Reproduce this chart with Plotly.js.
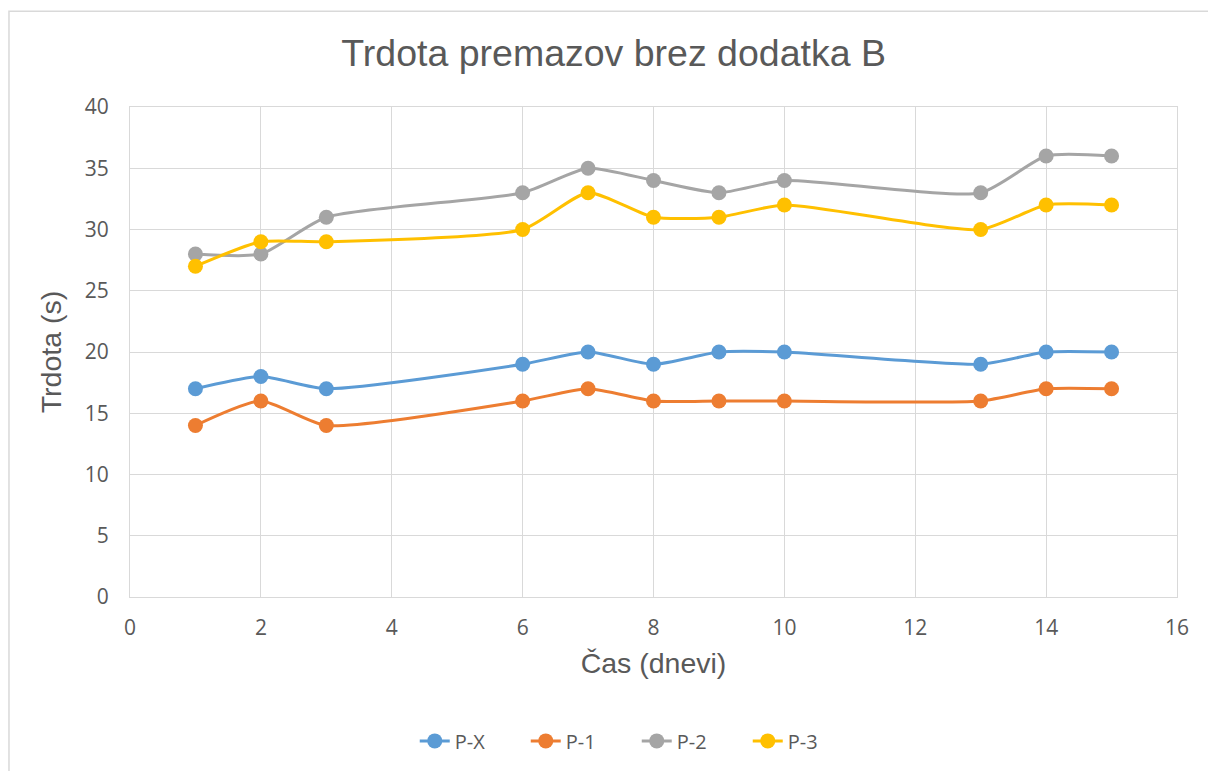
<!DOCTYPE html>
<html><head><meta charset="utf-8">
<script src="https://cdn.plot.ly/plotly-3.0.1.min.js"></script>
<style>body{margin:0;background:#fff}#c{width:1208px;height:771px}</style>
</head><body><div id="c"></div>
<script>
const days = [1, 2, 3, 6, 7, 8, 9, 10, 13, 14, 15];
const pX = [17, 18, 17, 19, 20, 19, 20, 20, 19, 20, 20];
const p1 = [14, 16, 14, 16, 17, 16, 16, 16, 16, 17, 17];
const p2 = [28, 28, 31, 33, 35, 34, 33, 34, 33, 36, 36];
const p3 = [27, 29, 29, 30, 33, 31, 31, 32, 30, 32, 32];
const names = ['P-X', 'P-1', 'P-2', 'P-3'];
const colors = ['#5b9bd5', '#ed7d31', '#a5a5a5', '#ffc000'];
const series = [pX, p1, p2, p3];
const arial = '"Liberation Sans", Arial, sans-serif';
const tickFont = '"Open Sans", "Noto Sans", sans-serif';
const traces = series.map((s, i) => ({
  x: days, y: s, name: names[i], type: 'scatter', mode: 'lines+markers',
  line: {color: colors[i], width: 3, shape: 'spline', smoothing: 0.6},
  marker: {color: colors[i], size: 15}
}));
const layout = {
  width: 1208, height: 771,
  margin: {l: 130, r: 31, t: 107, b: 173},
  paper_bgcolor: '#fff', plot_bgcolor: '#fff',
  font: {family: tickFont, color: '#595959'},
  title: {text: 'Trdota premazov brez dodatka B', font: {size: 37.5, color: '#595959', family: arial}, x: 0.508, xanchor: 'center', y: 0.932, yanchor: 'middle'},
  xaxis: {range: [0, 16], dtick: 2, tick0: 0, showgrid: true, gridcolor: '#d9d9d9', gridwidth: 1,
    zeroline: false, showline: true, linecolor: '#d9d9d9', mirror: true, ticks: '',
    tickfont: {size: 21, color: '#595959', family: tickFont}, ticklabelstandoff: 12,
    title: {text: 'Čas (dnevi)', font: {size: 28.5, color: '#595959', family: arial}, standoff: 12}},
  yaxis: {range: [0, 40], dtick: 5, tick0: 0, showgrid: true, gridcolor: '#d9d9d9', gridwidth: 1,
    zeroline: false, showline: true, linecolor: '#d9d9d9', mirror: true, ticks: '',
    tickfont: {size: 21, color: '#595959', family: tickFont}, ticklabelstandoff: 16,
    title: {text: 'Trdota (s)', font: {size: 28.5, color: '#595959', family: arial}, standoff: 14}},
  legend: {orientation: 'h', x: 0.484, xanchor: 'center', y: -0.291, yanchor: 'middle',
    font: {size: 20, color: '#595959', family: tickFont}, entrywidth: 66, entrywidthmode: 'pixels'},
  shapes: [{type: 'rect', xref: 'paper', yref: 'paper', x0: -0.1156, x1: 1.2, y0: -0.5, y1: 1.1955,
    line: {color: '#d9d9d9', width: 1.5}, fillcolor: 'rgba(0,0,0,0)', layer: 'below'}],
  showlegend: true
};
Plotly.newPlot('c', traces, layout, {displayModeBar: false, staticPlot: true});
</script></body></html>
